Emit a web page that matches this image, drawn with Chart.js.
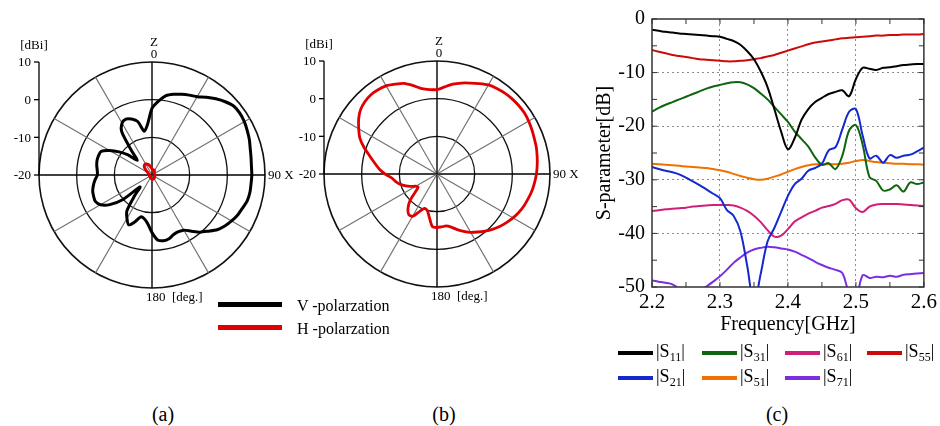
<!DOCTYPE html>
<html>
<head>
<meta charset="utf-8">
<script src="https://cdn.jsdelivr.net/npm/chart.js@4.4.1/dist/chart.umd.min.js"></script>
<style>
  body { margin: 0; background: #fff; }
  #fig { position: relative; width: 940px; height: 426px; overflow: hidden; background: #fff;
         font-family: 'Liberation Serif', serif; color: #000; }
  #fig canvas { position: absolute; }
  .cap { position: absolute; font-size: 20px; transform: translate(-50%, -50%); }
  .sw { position: absolute; height: 5px; }
  .lt { position: absolute; transform: translateY(-50%); white-space: nowrap; }
  .lt sub { font-size: 12px; vertical-align: -4px; }
</style>
</head>
<body>
<div id="fig">
  <canvas id="polarA" width="304" height="310" style="left:0;top:20px"></canvas>
  <canvas id="polarB" width="304" height="310" style="left:285px;top:19px"></canvas>
  <canvas id="sparam" width="360" height="340" style="left:580px;top:0"></canvas>
  <div class="cap" style="left:163px;top:414px">(a)</div>
  <div class="cap" style="left:444px;top:414px">(b)</div>
  <div class="cap" style="left:777px;top:414px">(c)</div>
</div>
<script>
// radiation pattern, angle in degrees from Z (clockwise towards X)
const angles = [0,5,10,15,20,25,30,35,40,45,50,55,60,65,70,75,80,85,90,95,100,105,110,115,
  120,125,130,135,140,145,150,155,160,165,170,175,180,185,190,195,200,205,210,215,220,225,230,235,
  240,245,250,255,260,265,270,275,280,285,290,295,300,305,310,315,320,325,330,335,340,345,350,355];
const dbTicks = [10, 0, -10, -20];

// (a) gain [dBi]
const vPolA = [-2.3,-0.3,1.4,2.2,2.8,3.4,4.0,5.2,6.4,7.5,8.4,8.5,
  8.3,7.9,7.5,7.0,6.7,6.5,6.5,6.4,6.4,6.2,5.6,5.1,
  4.4,3.6,2.6,1.1,-0.2,-1.8,-3.1,-3.4,-3.2,-2.5,-2.3,-2.7,
  -4.7,-7.0,-8.2,-8.5,-6.8,-5.4,-6.7,-8.4,-12.8,-15.5,-9.8,-6.3,
  -4.2,-3.4,-3.5,-3.7,-4.2,-4.8,-5.5,-5.4,-5.1,-4.9,-4.9,-5.1,
  -7.0,-9.3,-11.7,-14.5,-11.5,-6.0,-4.1,-3.6,-4.2,-5.3,-8.2,-6.5];
const hPolA = [-18.3,-18.5,-18.7,-18.8,-18.7,-18.6,-18.7,-18.9,-19.1,-19.2,-19.3,-19.3,
  -19.3,-19.3,-19.3,-19.3,-19.3,-19.3,-19.2,-19.2,-19.2,-19.2,-19.2,-19.2,
  -19.2,-19.2,-19.1,-19.1,-19.0,-19.0,-19.0,-18.9,-18.9,-18.9,-18.9,-18.9,
  -18.9,-19.0,-19.0,-19.1,-19.1,-19.2,-19.2,-19.3,-19.3,-19.3,-19.3,-19.3,
  -19.3,-19.3,-19.3,-19.3,-19.3,-19.3,-19.3,-19.3,-19.2,-19.1,-19.0,-18.9,
  -18.8,-18.3,-17.8,-17.2,-16.8,-16.6,-16.6,-16.8,-17.0,-17.4,-17.8,-18.1];
// (b) gain [dBi]
const hPolB = [2.4,3.2,4.2,5.0,5.7,6.5,7.3,7.7,8.0,8.2,8.3,8.3,
  8.1,7.8,7.5,7.3,7.0,6.7,6.4,6.0,5.6,5.1,4.6,4.0,
  3.3,2.5,1.7,0.8,-0.2,-1.2,-2.1,-3.2,-4.3,-5.4,-6.0,-5.9,
  -5.8,-6.0,-8.3,-10.0,-10.3,-9.0,-7.0,-6.9,-8.0,-9.8,-12.4,-13.9,
  -13.5,-12.2,-10.9,-9.7,-8.8,-7.9,-6.2,-4.6,-3.2,-1.5,0.6,2.6,
  4.0,5.4,6.5,7.1,7.4,7.3,7.0,6.3,5.6,4.3,3.0,2.5];

// (c) S-parameters [dB] vs frequency [GHz]
const freq = [2.20,2.21,2.22,2.23,2.24,2.25,2.26,2.27,2.28,2.29,2.30,2.31,2.32,2.33,2.34,2.35,2.36,2.37,2.38,2.39,
  2.40,2.41,2.42,2.43,2.44,2.45,2.46,2.47,2.48,2.49,2.50,2.51,2.52,2.53,2.54,2.55,2.56,2.57,2.58,2.59,2.60];
const s11 = [-2.0,-2.2,-2.4,-2.5,-2.7,-2.8,-2.9,-3.0,-3.1,-3.2,-3.3,-3.7,-4.1,-4.8,-6.0,-7.5,-9.8,-12.7,-16.8,-21.0,
  -24.3,-22.2,-18.8,-16.8,-15.5,-14.7,-14.0,-13.6,-13.3,-14.4,-11.2,-9.1,-9.3,-9.5,-9.1,-9.0,-8.8,-8.6,-8.5,-8.4,-8.4];
const s21 = [-27.6,-28.0,-28.3,-28.6,-29.0,-29.6,-30.3,-31.0,-31.8,-32.6,-33.4,-35.6,-36.7,-39.6,-46.0,-53.0,-47.5,-41.5,-39.0,-36.0,
  -33.0,-30.8,-29.8,-28.3,-27.8,-27.0,-24.5,-23.9,-20.6,-17.3,-16.8,-21.8,-26.0,-25.5,-26.8,-25.4,-25.9,-25.5,-25.3,-24.7,-24.0];
const s31 = [-17.3,-16.6,-16.0,-15.5,-15.0,-14.5,-14.0,-13.5,-13.0,-12.6,-12.3,-12.0,-11.8,-11.8,-12.2,-12.9,-13.9,-15.0,-16.4,-17.8,
  -19.2,-21.0,-22.4,-23.8,-25.8,-27.2,-26.9,-28.0,-25.5,-20.8,-19.8,-23.5,-29.5,-30.2,-32.0,-31.8,-31.0,-32.2,-30.5,-30.8,-30.5];
const s51 = [-27.0,-27.1,-27.2,-27.3,-27.4,-27.5,-27.6,-27.7,-27.8,-28.0,-28.2,-28.5,-28.9,-29.3,-29.6,-29.9,-30.0,-29.8,-29.4,-29.0,
  -28.5,-28.0,-27.6,-27.3,-27.1,-27.1,-27.1,-27.1,-27.0,-26.8,-26.5,-26.3,-26.5,-26.7,-26.8,-26.9,-27.0,-27.0,-27.1,-27.1,-27.2];
const s55 = [-5.8,-6.1,-6.4,-6.7,-6.9,-7.1,-7.3,-7.5,-7.6,-7.7,-7.8,-7.9,-7.9,-7.8,-7.7,-7.5,-7.3,-7.0,-6.7,-6.3,
  -5.9,-5.5,-5.1,-4.7,-4.4,-4.2,-4.0,-3.8,-3.6,-3.5,-3.4,-3.3,-3.2,-3.1,-3.1,-3.0,-3.0,-2.9,-2.9,-2.9,-2.8];
const s61 = [-35.8,-35.7,-35.5,-35.4,-35.3,-35.2,-35.0,-34.9,-34.8,-34.7,-34.7,-34.7,-34.8,-35.2,-35.8,-36.7,-37.9,-39.4,-40.6,-40.4,
  -39.2,-37.8,-37.0,-36.3,-35.8,-35.2,-34.9,-34.5,-33.8,-33.7,-35.3,-36.0,-35.0,-34.6,-34.5,-34.5,-34.5,-34.6,-34.7,-34.8,-34.9];
const s71 = [-48.8,-49.0,-49.2,-49.5,-50.3,-50.8,-51.0,-50.8,-49.9,-49.0,-48.0,-46.8,-45.5,-44.5,-43.6,-43.0,-42.7,-42.5,-42.6,-42.8,
  -43.0,-43.4,-44.0,-44.6,-45.3,-45.9,-46.4,-46.8,-47.4,-51.0,-52.0,-47.8,-48.3,-48.1,-48.2,-47.9,-48.1,-47.7,-47.6,-47.5,-47.4];

const series = [
  { sub: '11', data: s11, color: '#000000' },
  { sub: '21', data: s21, color: '#1428d0' },
  { sub: '31', data: s31, color: '#0e650e' },
  { sub: '51', data: s51, color: '#f07000' },
  { sub: '61', data: s61, color: '#d01f78' },
  { sub: '71', data: s71, color: '#7a2ee0' },
  { sub: '55', data: s55, color: '#cc0a0a' },
];
// legend order as in the figure (two rows)
const legendRows = [['11', '31', '61', '55'], ['21', '51', '71']];

const serif = '"Liberation Serif", serif';

// dBi axis and angle labels for the polar plots
const polarText = {
  id: 'polarText',
  afterDraw(chart) {
    const r = chart.scales.r;
    const ctx = chart.ctx;
    const cx = r.xCenter, cy = r.yCenter;
    const R = r.getDistanceFromCenterForValue(r.max);
    const ax = cx - R;
    ctx.save();
    ctx.strokeStyle = '#000';
    ctx.lineWidth = 1.3;
    ctx.beginPath();
    ctx.moveTo(ax, cy);
    ctx.lineTo(ax, cy - R);
    ctx.stroke();
    ctx.fillStyle = '#000';
    ctx.font = '13px ' + serif;
    ctx.textBaseline = 'middle';
    ctx.textAlign = 'right';
    dbTicks.forEach(v => {
      const y = cy - r.getDistanceFromCenterForValue(v);
      ctx.beginPath();
      ctx.moveTo(ax - 5, y);
      ctx.lineTo(ax, y);
      ctx.stroke();
      ctx.fillText(String(v), ax - 8, y + 1);
    });
    ctx.textAlign = 'center';
    ctx.fillText('[dBi]', ax - 5, cy - R - 16);
    ctx.fillText('Z', cx + 2, cy - R - 19);
    ctx.fillText('0', cx + 2, cy - R - 7);
    ctx.textAlign = 'left';
    ctx.fillText('90 X', cx + R + 3, cy + 1);
    ctx.fillText('180  [deg.]', cx - 6, cy + R + 10);
    ctx.restore();
  }
};

function polarChart(id, datasets) {
  return new Chart(document.getElementById(id), {
    type: 'radar',
    data: { labels: angles, datasets: datasets },
    options: {
      responsive: false,
      animation: false,
      devicePixelRatio: 1,
      layout: { padding: { left: 39, right: 39, top: 42, bottom: 42 } },
      plugins: { legend: { display: false }, tooltip: { enabled: false } },
      elements: { point: { radius: 0 }, line: { tension: 0.25, fill: false } },
      scales: {
        r: {
          min: -20,
          max: 10,
          ticks: { display: false, stepSize: 10 },
          pointLabels: { display: false },
          grid: {
            circular: true,
            color: '#111',
            lineWidth: c => (c.index === 3 ? 1.6 : 1.3)
          },
          angleLines: {
            color: c => (c.index % 18 === 0 ? '#000' : '#707070'),
            lineWidth: c => (c.index % 6 !== 0 ? 0 : (c.index % 18 === 0 ? 1.4 : 1.1))
          }
        }
      }
    },
    plugins: [polarText]
  });
}

polarChart('polarA', [
  { label: 'H -polarzation', data: hPolA, borderColor: '#e00000', borderWidth: 3, order: 0 },
  { label: 'V -polarzation', data: vPolA, borderColor: '#000000', borderWidth: 3, order: 1 }
]);
polarChart('polarB', [
  { label: 'H -polarzation', data: hPolB, borderColor: '#e00000', borderWidth: 2.8 }
]);

// box, inner tick marks
const frame = {
  id: 'frame',
  afterDatasetsDraw(chart) {
    const { ctx, chartArea: a, scales: { x, y } } = chart;
    ctx.save();
    ctx.strokeStyle = '#333';
    ctx.lineWidth = 1;
    const xv = x.ticks.map(t => t.value);
    const yv = y.ticks.map(t => t.value);
    const xs = [], ys = [];
    xv.forEach((v, i) => { xs.push(v); if (i < xv.length - 1) xs.push((v + xv[i + 1]) / 2); });
    yv.forEach((v, i) => { ys.push(v); if (i < yv.length - 1) ys.push((v + yv[i + 1]) / 2); });
    ctx.beginPath();
    xs.forEach(v => {
      const px = x.getPixelForValue(v);
      ctx.moveTo(px, a.bottom); ctx.lineTo(px, a.bottom - 5);
      ctx.moveTo(px, a.top); ctx.lineTo(px, a.top + 5);
    });
    ys.forEach(v => {
      const py = y.getPixelForValue(v);
      ctx.moveTo(a.left, py); ctx.lineTo(a.left + 5, py);
      ctx.moveTo(a.right, py); ctx.lineTo(a.right - 5, py);
    });
    ctx.stroke();
    ctx.lineWidth = 1.5;
    ctx.strokeRect(a.left, a.top, a.right - a.left, a.bottom - a.top);
    ctx.restore();
  }
};

const innerGrid = (c, scale) => {
  const v = c.tick.value;
  return v > scale.min && v < scale.max ? '#8c8c8c' : 'rgba(0,0,0,0)';
};

new Chart(document.getElementById('sparam'), {
  type: 'line',
  data: {
    datasets: series.map(s => ({
      label: '|S' + s.sub + '|',
      data: freq.map((f, i) => ({ x: f, y: s.data[i] })),
      borderColor: s.color,
      borderWidth: 2,
      pointRadius: 0,
      tension: 0.35
    }))
  },
  options: {
    responsive: false,
    animation: false,
    devicePixelRatio: 1,
    layout: { padding: { top: 16, right: 16, left: 0, bottom: 0 } },
    plugins: { legend: { display: false }, tooltip: { enabled: false } },
    scales: {
      x: {
        type: 'linear',
        min: 2.2,
        max: 2.6,
        ticks: {
          stepSize: 0.1,
          maxRotation: 0,
          padding: 3,
          color: '#000',
          font: { family: serif, size: 21 },
          callback: v => Number(v).toFixed(1)
        },
        grid: { color: c => innerGrid(c, { min: 2.2, max: 2.6 }), lineWidth: 1, drawTicks: false },
        border: { display: false, dash: [2, 3] },
        title: {
          display: true,
          text: 'Frequency[GHz]',
          color: '#000',
          font: { family: serif, size: 20 },
          padding: { top: 0, bottom: 3 }
        },
        afterFit: s => { s.height = 53; }
      },
      y: {
        min: -50,
        max: 0,
        ticks: {
          stepSize: 10,
          padding: 7,
          color: '#000',
          font: { family: serif, size: 20 }
        },
        grid: { color: c => innerGrid(c, { min: -50, max: 0 }), lineWidth: 1, drawTicks: false },
        border: { display: false, dash: [2, 3] },
        title: {
          display: true,
          text: 'S-parameter[dB]',
          color: '#000',
          font: { family: serif, size: 20 },
          padding: { top: 13, bottom: 0 }
        },
        afterFit: s => { s.width = 72; }
      }
    }
  },
  plugins: [frame]
});

// legends (html)
const fig = document.getElementById('fig');
function add(html) { fig.insertAdjacentHTML('beforeend', html); }

[['#000000', 'V -polarzation', 304], ['#e00000', 'H -polarzation', 327]].forEach(([c, t, y]) => {
  add(`<div class="sw" style="left:218px;top:${y - 2.5}px;width:64px;background:${c}"></div>`);
  add(`<div class="lt" style="left:297px;top:${y + 2}px;font-size:16px">${t}</div>`);
});

const colX = [618, 702, 785, 867];
const rowY = [353, 378];
legendRows.forEach((row, ri) => {
  row.forEach((sub, ci) => {
    const s = series.find(d => d.sub === sub);
    add(`<div class="sw" style="left:${colX[ci]}px;top:${rowY[ri] - 2}px;width:35px;height:4px;background:${s.color}"></div>`);
    add(`<div class="lt" style="left:${colX[ci] + 38}px;top:${rowY[ri]}px;font-size:18px">|S<sub>${sub}</sub>|</div>`);
  });
});
</script>
</body>
</html>
